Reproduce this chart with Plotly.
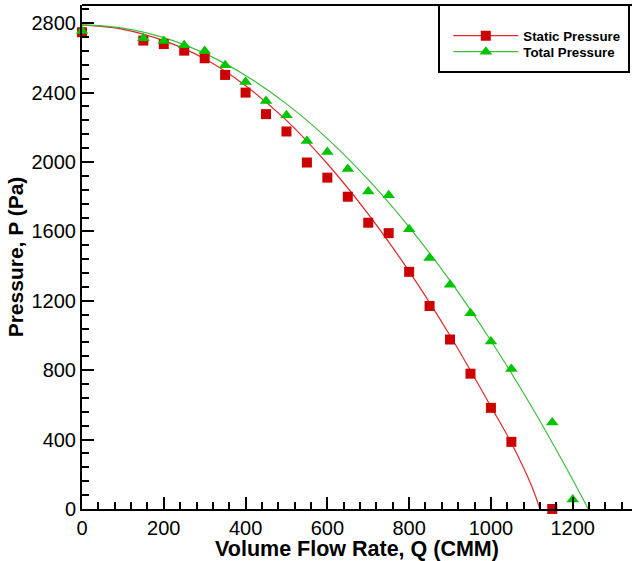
import plotly.graph_objects as go

q_static = [0, 150, 200, 250, 300, 350, 400, 450, 500, 550, 600, 650, 700, 750, 800, 850, 900, 950, 1000, 1050, 1150]
p_static = [2748, 2700, 2680, 2642, 2598, 2502, 2400, 2276, 2176, 1997, 1910, 1800, 1650, 1590, 1367, 1170, 977, 780, 583, 387, 0]

q_total = [0, 150, 200, 250, 300, 350, 400, 450, 500, 550, 600, 650, 700, 750, 800, 850, 900, 950, 1000, 1050, 1150, 1200]
p_total = [2755, 2714, 2698, 2673, 2640, 2558, 2461, 2352, 2270, 2121, 2058, 1960, 1830, 1808, 1612, 1447, 1293, 1128, 966, 807, 498, 55]

# Fitted curves
q_static_fit = [0, 100, 200, 300, 400, 500, 600, 700, 800, 900, 1000, 1050, 1100, 1120]
p_static_fit = [2790, 2765, 2700, 2595, 2440, 2240, 1990, 1700, 1370, 1000, 590, 380, 130, 0]

q_total_fit = [0, 100, 200, 300, 400, 500, 600, 700, 800, 900, 1000, 1100, 1200, 1238]
p_total_fit = [2790, 2772, 2717, 2626, 2499, 2335, 2135, 1898, 1625, 1316, 970, 588, 169, 0]

x_ticks = [0, 200, 400, 600, 800, 1000, 1200]
y_ticks = [0, 400, 800, 1200, 1600, 2000, 2400, 2800]

RED_LINE = "#dd2a2a"
RED_MARK = "#cc0000"
GREEN_LINE = "#3cbf3c"
GREEN_MARK = "#00c400"
FONT = "Liberation Sans, Arial, sans-serif"

fig = go.Figure()

fig.add_trace(go.Scatter(x=q_static_fit, y=p_static_fit, mode="lines", line=dict(color=RED_LINE, width=1.2),
                         line_shape="spline", showlegend=False, hoverinfo="skip"))
fig.add_trace(go.Scatter(x=q_total_fit, y=p_total_fit, mode="lines", line=dict(color=GREEN_LINE, width=1.2),
                         line_shape="spline", showlegend=False, hoverinfo="skip"))
fig.add_trace(go.Scatter(x=q_static, y=p_static, mode="markers", cliponaxis=False, showlegend=False,
                         marker=dict(symbol="square", size=10, color=RED_MARK)))
fig.add_trace(go.Scatter(x=q_total, y=p_total, mode="markers", cliponaxis=False, showlegend=False,
                         marker=dict(symbol="triangle-up", size=11, color=GREEN_MARK)))

# legend entries (two separate legends for tight spacing)
fig.add_trace(go.Scatter(x=[None], y=[None], mode="lines+markers", name="Static Pressure", legend="legend",
                         line=dict(color=RED_LINE, width=1.2),
                         marker=dict(symbol="square", size=10, color=RED_MARK)))
fig.add_trace(go.Scatter(x=[None], y=[None], mode="lines+markers", name="Total Pressure", legend="legend2",
                         line=dict(color=GREEN_LINE, width=1.2),
                         marker=dict(symbol="triangle-up", size=11, color=GREEN_MARK)))

leg_common = dict(xanchor="left", yanchor="middle", bgcolor="rgba(0,0,0,0)", borderwidth=0,
                  itemwidth=65, font=dict(size=13.3, family=FONT, weight="bold"))

# plot area: x 82..632, y 5..509
fig.update_layout(
    width=632, height=561,
    margin=dict(l=82, r=0, t=5, b=52),
    plot_bgcolor="white", paper_bgcolor="white",
    font=dict(family=FONT, color="black"),
    legend=dict(x=0.666, y=(509 - 36) / 504, **leg_common),
    legend2=dict(x=0.666, y=(509 - 52) / 504, **leg_common),
    shapes=[
        dict(type="line", xref="paper", yref="paper", x0=0, x1=1, y0=1, y1=1,
             line=dict(color="black", width=2)),
        dict(type="rect", xref="paper", yref="paper",
             x0=(439 - 82) / 550, x1=(629 - 82) / 550, y0=(509 - 72) / 504, y1=1.0,
             line=dict(color="black", width=2), fillcolor="rgba(0,0,0,0)"),
    ],
)

fig.update_xaxes(
    range=[0, 1345], tickvals=x_ticks, showgrid=False, zeroline=False, automargin=False,
    showline=True, linecolor="black", linewidth=2,
    ticks="inside", ticklen=12, tickwidth=2, tickcolor="black",
    minor=dict(dtick=40, tick0=0, ticks="inside", ticklen=7, tickwidth=1.5, tickcolor="black", showgrid=False),
    tickfont=dict(size=20),
    title=dict(text="Volume Flow Rate, Q (CMM)", font=dict(size=21.5, weight="bold"), standoff=2),
)
fig.update_yaxes(
    range=[0, 2905], tickvals=y_ticks, showgrid=False, zeroline=False, automargin=False,
    showline=True, linecolor="black", linewidth=2,
    ticks="inside", ticklen=12, tickwidth=2, tickcolor="black",
    minor=dict(dtick=80, tick0=0, ticks="inside", ticklen=7, tickwidth=1.5, tickcolor="black", showgrid=False),
    tickfont=dict(size=20),
    title=dict(text="Pressure, P (Pa)", font=dict(size=21, weight="bold"), standoff=2),
)

fig.write_html("out.html", config={"displayModeBar": False},
               post_script="document.body.style.margin='0';")
